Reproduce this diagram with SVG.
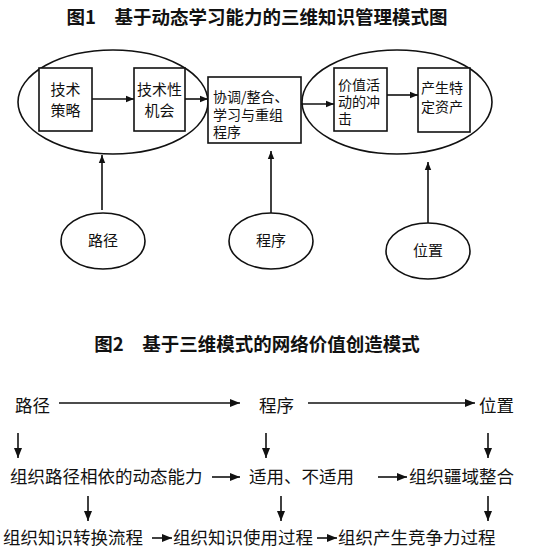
<svg xmlns="http://www.w3.org/2000/svg" width="550" height="557" viewBox="0 0 550 557">
<defs>
<marker id="ah" viewBox="0 0 10 10" refX="10" refY="5" markerWidth="8" markerHeight="8" markerUnits="userSpaceOnUse" orient="auto">
<path d="M0,1 L10,5 L0,9 z" fill="#111"/>
</marker>
<marker id="ah2" viewBox="0 0 10 10" refX="10" refY="5" markerWidth="10" markerHeight="10" markerUnits="userSpaceOnUse" orient="auto">
<path d="M0,1 L10,5 L0,9 z" fill="#111"/>
</marker>
</defs>
<style>
text{font-family:"Noto Sans CJK SC","Noto Sans",sans-serif;fill:#111}
.title{font-size:18.5px;font-weight:bold}
.t{font-size:15px}
.tb{font-size:14px}
.t2{font-size:17.5px}
.shape{fill:none;stroke:#111;stroke-width:1.6}
.box{fill:#fff;stroke:#111;stroke-width:1.6}
.c{stroke:#111;stroke-width:1.6;fill:none;marker-end:url(#ah)}
.c2{stroke:#111;stroke-width:1.6;fill:none;marker-end:url(#ah2)}
</style>
<rect width="550" height="557" fill="#fff"/>
<text class="title" x="257" y="24" text-anchor="middle">图1　基于动态学习能力的三维知识管理模式图</text>

<g id="ellipse-left"><ellipse class="shape" cx="113" cy="102" rx="95" ry="52"/></g>
<g id="ellipse-right"><ellipse class="shape" cx="397" cy="102" rx="95" ry="52"/></g>

<g id="n-jscl"><rect class="box" x="39" y="68" width="53" height="63"/>
<text class="t" x="65.5" y="95" text-anchor="middle">技术</text>
<text class="t" x="65.5" y="116" text-anchor="middle">策略</text></g>

<g id="n-jsxjh"><rect class="box" x="134" y="68" width="51" height="63"/>
<text class="t" x="159.5" y="95" text-anchor="middle">技术性</text>
<text class="t" x="159.5" y="116" text-anchor="middle">机会</text></g>

<g id="n-xt"><rect class="box" x="208" y="77" width="93" height="66"/>
<text class="tb" x="213" y="102">协调/整合、</text>
<text class="tb" x="213" y="119.5">学习与重组</text>
<text class="tb" x="213" y="137">程序</text></g>

<g id="n-jzhd"><rect class="box" x="334" y="68" width="53" height="63"/>
<text class="tb" x="338" y="90">价值活</text>
<text class="tb" x="338" y="107">动的冲</text>
<text class="tb" x="338" y="124">击</text></g>

<g id="n-csts"><rect class="box" x="418" y="68" width="52" height="64"/>
<text class="tb" x="421" y="93">产生特</text>
<text class="tb" x="421" y="112">定资产</text></g>

<g id="n-lj1"><ellipse class="shape" cx="103" cy="241" rx="42" ry="28"/>
<text class="t" x="103" y="246" text-anchor="middle">路径</text></g>
<g id="n-cx1"><ellipse class="shape" cx="271" cy="241" rx="42" ry="28"/>
<text class="t" x="271" y="246" text-anchor="middle">程序</text></g>
<g id="n-wz1"><ellipse class="shape" cx="428" cy="251" rx="42" ry="28"/>
<text class="t" x="428" y="256" text-anchor="middle">位置</text></g>

<g id="connectors1">
<line class="c" x1="92" y1="99" x2="134" y2="99"/>
<line class="c" x1="185" y1="99" x2="208" y2="99"/>
<line class="c" x1="301" y1="104" x2="334" y2="104"/>
<line class="c" x1="387" y1="95" x2="418" y2="95"/>
<line class="c" x1="102" y1="210" x2="102" y2="155"/>
<line class="c" x1="271" y1="213" x2="271" y2="151"/>
<line class="c" x1="428" y1="223" x2="428" y2="162"/>
</g>

<text class="title" x="257" y="351" text-anchor="middle">图2　基于三维模式的网络价值创造模式</text>

<g id="r1-lj"><text class="t2" x="15" y="412">路径</text></g>
<g id="r1-cx"><text class="t2" x="259" y="412">程序</text></g>
<g id="r1-wz"><text class="t2" x="479" y="412">位置</text></g>
<g id="r2-a"><text class="t2" x="10" y="483">组织路径相依的动态能力</text></g>
<g id="r2-b"><text class="t2" x="249" y="483">适用、不适用</text></g>
<g id="r2-c"><text class="t2" x="409" y="483">组织疆域整合</text></g>
<g id="r3-a"><text class="t2" x="3" y="544">组织知识转换流程</text></g>
<g id="r3-b"><text class="t2" x="173" y="544">组织知识使用过程</text></g>
<g id="r3-c"><text class="t2" x="338" y="544">组织产生竞争力过程</text></g>

<g id="connectors2">
<line class="c2" x1="59" y1="403" x2="240" y2="403"/>
<line class="c2" x1="308" y1="403" x2="475" y2="403"/>
<line class="c2" x1="18" y1="433" x2="18" y2="458"/>
<line class="c2" x1="266" y1="433" x2="266" y2="458"/>
<line class="c2" x1="488" y1="433" x2="488" y2="458"/>
<line class="c2" x1="212" y1="477" x2="240" y2="477"/>
<line class="c2" x1="378" y1="477" x2="407" y2="477"/>
<line class="c2" x1="88" y1="496" x2="88" y2="521"/>
<line class="c2" x1="281" y1="496" x2="281" y2="521"/>
<line class="c2" x1="488" y1="496" x2="488" y2="521"/>
<line class="c2" x1="152" y1="538" x2="172" y2="538"/>
<line class="c2" x1="317" y1="538" x2="337" y2="538"/>
</g>
</svg>
